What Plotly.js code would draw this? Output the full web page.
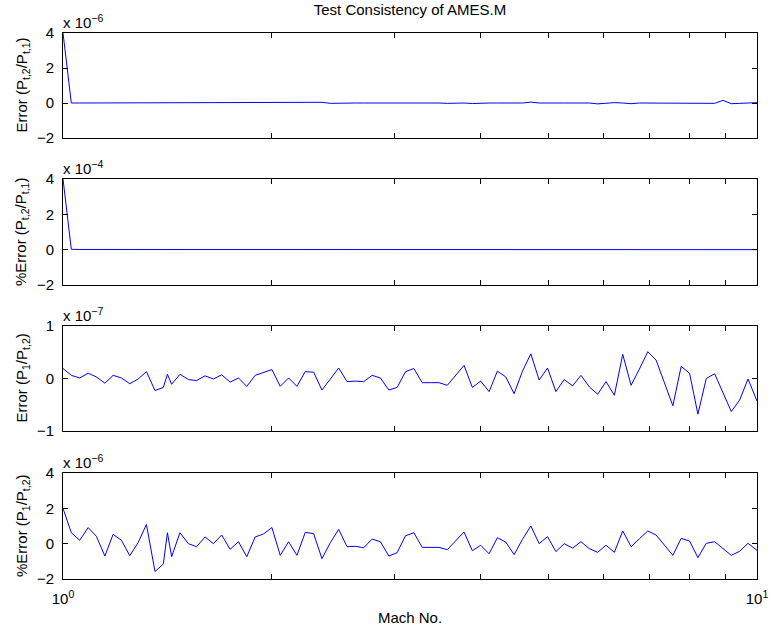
<!DOCTYPE html>
<html>
<head>
<meta charset="utf-8">
<script src="https://cdn.plot.ly/plotly-3.0.1.min.js"></script>
<style>html,body{margin:0;padding:0;background:#fff;}#chart{width:772px;height:628px;}</style>
</head>
<body>
<div id="chart"></div>
<script>
// Mach numbers (x values)
const mach = [
1.000, 1.028, 1.057, 1.087, 1.117, 1.149, 1.181, 1.214, 1.248, 1.283,
1.319, 1.357, 1.395, 1.414, 1.434, 1.474, 1.516, 1.558, 1.602, 1.647,
1.693, 1.741, 1.790, 1.840, 1.892, 1.945, 2.000, 2.056, 2.114, 2.173,
2.234, 2.297, 2.361, 2.428, 2.496, 2.566, 2.638, 2.712, 2.789, 2.867,
2.948, 3.030, 3.116, 3.203, 3.293, 3.386, 3.481, 3.579, 3.679, 3.783,
3.889, 3.998, 4.111, 4.226, 4.345, 4.467, 4.593, 4.722, 4.854, 4.991,
5.131, 5.275, 5.424, 5.576, 5.733, 5.894, 6.060, 6.230, 6.405, 6.585,
6.770, 6.960, 7.156, 7.357, 7.564, 7.776, 7.995, 8.220, 8.451, 8.688,
8.932, 9.183, 9.441, 9.707, 10.000];

// Error (Pt2/Pt1), units of 1e-6
const errPt = [
4, 0, 0, 0, 0, 0, 0, 0, 0, 0,
0, 0, 0, 0, 0, 0, 0, 0, 0, 0,
0, 0, 0.01, 0, 0, 0, 0, 0, 0, 0,
0, 0, 0.04, -0.02, 0, 0.01, 0, 0, 0, 0,
0, 0.02, 0, 0, 0, 0.03, 0, -0.02, 0, 0,
-0.03, 0, 0, 0, -0.02, 0, 0, 0.05, 0, -0.02,
0, 0, 0, 0, 0, -0.05, 0, 0.02, 0, -0.04,
0, 0, 0, 0, 0.01, 0, 0, -0.03, 0, -0.02,
0.15, -0.04, -0.02, 0, 0.02];

// %Error (Pt2/Pt1), units of 1e-4
const pctErrPt = [
4, 0.02, 0.01, 0.01, 0, 0, 0, 0, 0, 0,
0, 0, 0, 0, 0, 0, 0, 0, 0, 0,
0, 0, 0, 0, 0, 0, 0, 0, 0, 0,
0, 0, 0, 0, 0, 0, 0, 0, 0, 0,
0, 0, 0, 0, 0, 0, 0, 0, 0, 0,
0, 0, 0, 0, 0, 0, 0, 0, 0, 0,
0, 0, 0, 0, 0, 0, 0, 0, 0, 0,
0, 0, 0, 0, 0, 0, 0, 0, 0, 0,
0, 0, 0, 0, 0];

// Error (P1/Pt2), units of 1e-7
const errP1 = [
0.19, 0.06, 0.01, 0.10, 0.03, -0.09, 0.06, 0.01, -0.10, -0.01,
0.13, -0.23, -0.17, 0.08, -0.11, 0.08, -0.02, -0.04, 0.05, -0.01,
0.07, -0.07, 0.01, -0.15, 0.06, 0.11, 0.17, -0.15, 0.01, -0.15,
0.13, 0.12, -0.22, -0.01, 0.20, -0.06, -0.05, -0.06, 0.06, 0.01,
-0.22, -0.17, 0.13, 0.19,
-0.08, -0.08, -0.08, -0.13, 0.06, 0.25, -0.17, -0.05, -0.25, 0.14,
0.03, -0.29, 0.14, 0.47, -0.03, 0.20, -0.25, -0.02, -0.14, 0.06,
-0.16, -0.30, -0.06, -0.32, 0.46, -0.13, 0.18, 0.51, 0.35, -0.07,
-0.52, 0.23, 0.10, -0.68, 0.00, 0.09, -0.27, -0.63, -0.41, -0.01,
-0.43];

// %Error (P1/Pt2), units of 1e-6
const pctErrP1 = [
2.0, 0.62, 0.19, 0.91, 0.42, -0.70, 0.53, 0.19, -0.68, 0.06,
1.09, -1.58, -1.15, 0.62, -0.74, 0.62, 0.00, -0.17, 0.38, 0.00,
0.49, -0.32, 0.11, -0.74, 0.38, 0.55, 0.91, -0.66, 0.11, -0.66,
0.64, 0.57, -0.85, 0.06, 0.81, -0.17, -0.15, -0.23, 0.26, 0.11,
-0.70, -0.51, 0.45, 0.62,
-0.21, -0.21, -0.21, -0.34, 0.17, 0.66, -0.40, -0.09, -0.57, 0.34,
0.09, -0.62, 0.25, 1.0, 0.0, 0.40, -0.45, 0.0, -0.25, 0.11,
-0.28, -0.49, -0.09, -0.49, 0.72, -0.17, 0.28, 0.72, 0.49, -0.08,
-0.66, 0.30, 0.15, -0.79, 0.02, 0.11, -0.26, -0.66, -0.43, 0.02,
-0.38];

const xTickVals = [1, 2, 3, 4, 5, 6, 7, 8, 9, 10];
const xTickText = ['10<sup>0</sup>', '', '', '', '', '', '', '', '', '10<sup>1</sup>'];

const yTitles = [
  'Error (P<sub>t,2</sub>/P<sub>t,1</sub>)',
  '%Error (P<sub>t,2</sub>/P<sub>t,1</sub>)',
  'Error (P<sub>1</sub>/P<sub>t,2</sub>)',
  '%Error (P<sub>1</sub>/P<sub>t,2</sub>)'];
const multipliers = ['x 10<sup>−6</sup>', 'x 10<sup>−4</sup>', 'x 10<sup>−7</sup>', 'x 10<sup>−6</sup>'];
const yRanges = [[-2, 4], [-2, 4], [-1, 1], [-2, 4]];
const yTickVals = [[-2, 0, 2, 4], [-2, 0, 2, 4], [-1, 0, 1], [-2, 0, 2, 4]];
const series = [errPt, pctErrPt, errP1, pctErrP1];

const FONT = 'Liberation Sans, Arial, Helvetica, sans-serif';
const FS = 15;
const domains = [[0.8077, 1.0], [0.5385, 0.7326], [0.2711, 0.4634], [0.0, 0.1941]];

const data = [];
const layout = {
  width: 772, height: 628,
  margin: {l: 63, r: 15, t: 33, b: 49},
  paper_bgcolor: '#fff', plot_bgcolor: '#fff',
  showlegend: false,
  font: {family: FONT, size: FS, color: '#000'},
  title: {text: 'Test Consistency of AMES.M', font: {family: FONT, size: 15, color: '#000'},
          x: 0.5, xref: 'paper', y: 1, yref: 'container', yanchor: 'top', pad: {t: 4}},
  annotations: []
};

for (let i = 0; i < 4; i++) {
  const xa = i === 0 ? 'x' : 'x' + (i + 1);
  const ya = i === 0 ? 'y' : 'y' + (i + 1);
  const xk = i === 0 ? 'xaxis' : 'xaxis' + (i + 1);
  const yk = i === 0 ? 'yaxis' : 'yaxis' + (i + 1);
  data.push({x: mach, y: series[i], xaxis: xa, yaxis: ya, type: 'scatter', mode: 'lines',
             line: {color: '#0000ff', width: 1}, hoverinfo: 'skip'});
  layout[xk] = {
    type: 'log', range: [0, 1], domain: [0, 1], anchor: ya,
    tickmode: 'array', tickvals: xTickVals, ticktext: xTickText,
    showticklabels: i === 3, ticks: 'inside', ticklen: 5, tickcolor: '#000', tickwidth: 1,
    ticklabelstandoff: 6,
    showline: true, linecolor: '#000', linewidth: 1, mirror: 'ticks',
    showgrid: false, zeroline: false,
    tickfont: {family: FONT, size: FS, color: '#000'}
  };
  if (i === 3) {
    layout[xk].title = {text: 'Mach No.', font: {family: FONT, size: FS, color: '#000'}, standoff: 6};
  }
  layout[yk] = {
    range: yRanges[i], domain: domains[i], anchor: xa,
    tickmode: 'array', tickvals: yTickVals[i],
    ticks: 'inside', ticklen: 5, tickcolor: '#000', tickwidth: 1,
    ticklabelstandoff: 5,
    showline: true, linecolor: '#000', linewidth: 1, mirror: 'ticks',
    showgrid: false, zeroline: false,
    tickfont: {family: FONT, size: FS, color: '#000'}
  };
  layout.annotations.push({
    text: yTitles[i], xref: 'paper', yref: 'paper', x: 0, xshift: -41,
    y: (domains[i][0] + domains[i][1]) / 2, textangle: -90,
    xanchor: 'center', yanchor: 'middle', showarrow: false,
    font: {family: FONT, size: FS, color: '#000'}
  });
  layout.annotations.push({
    text: multipliers[i], xref: 'paper', yref: 'paper', x: 0, y: domains[i][1],
    xanchor: 'left', yanchor: 'bottom', showarrow: false, yshift: 0, xshift: -2,
    font: {family: FONT, size: FS, color: '#000'}
  });
}

Plotly.newPlot('chart', data, layout, {staticPlot: true, displayModeBar: false});
</script>
</body>
</html>
